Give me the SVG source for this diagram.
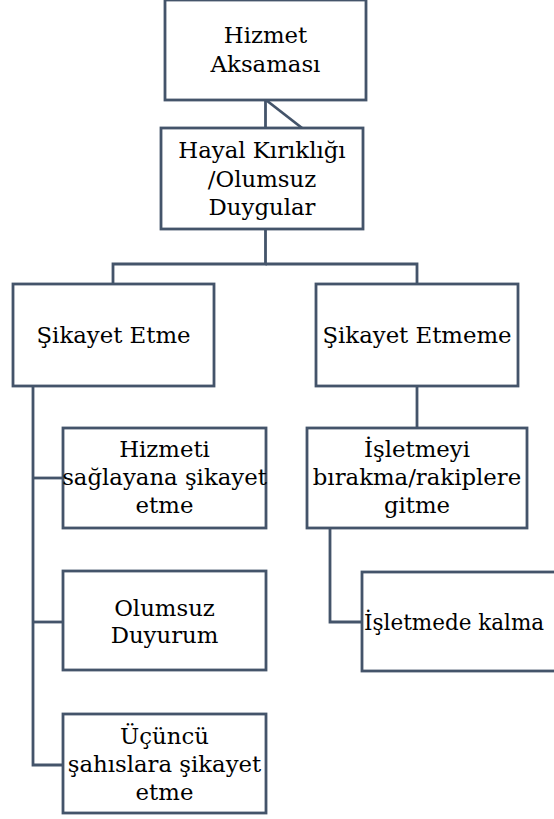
<svg xmlns="http://www.w3.org/2000/svg" width="554" height="819" viewBox="0 0 554 819">
  <style>
    .box { fill: #ffffff; stroke: #44546a; stroke-width: 2.8; }
    .link { fill: none; stroke: #44546a; stroke-width: 2.8; }
    text { font-family: 'DejaVu Serif', serif; font-size: 22.8px; fill: #000000; text-anchor: middle; }
  </style>
  <rect width="554" height="819" fill="#ffffff"/>

  <!-- connectors -->
  <g id="connectors">
    <path class="link" d="M265.5 100 V128"/>
    <path class="link" d="M266 100 L302 128"/>
    <path class="link" d="M265.5 229 V264 H113 V284"/>
    <path class="link" d="M265.5 264 H417 V284"/>
    <path class="link" d="M33 386 V765 H63"/>
    <path class="link" d="M33 478 H63"/>
    <path class="link" d="M33 622 H63"/>
    <path class="link" d="M417 386 V428"/>
    <path class="link" d="M330 528 V622 H362"/>
  </g>

  <g id="hizmet-aksamasi">
    <rect class="box" x="165" y="0" width="201" height="100"/>
    <text x="265.5" y="43">Hizmet</text>
    <text x="265.5" y="72">Aksaması</text>
  </g>

  <g id="hayal-kirikligi">
    <rect class="box" x="161" y="128" width="202" height="101"/>
    <text x="262" y="158">Hayal Kırıklığı</text>
    <text x="262" y="187">/Olumsuz</text>
    <text x="262" y="215">Duygular</text>
  </g>

  <g id="sikayet-etme">
    <rect class="box" x="13" y="284" width="201" height="102"/>
    <text x="113.5" y="343">Şikayet Etme</text>
  </g>

  <g id="sikayet-etmeme">
    <rect class="box" x="316" y="284" width="202" height="102"/>
    <text x="417" y="343">Şikayet Etmeme</text>
  </g>

  <g id="hizmeti-saglayana">
    <rect class="box" x="63" y="428" width="203" height="100"/>
    <text x="164.5" y="457">Hizmeti</text>
    <text x="164.5" y="485">sağlayana şikayet</text>
    <text x="164.5" y="513">etme</text>
  </g>

  <g id="olumsuz-duyurum">
    <rect class="box" x="63" y="571" width="203" height="99"/>
    <text x="164.5" y="616">Olumsuz</text>
    <text x="164.5" y="643">Duyurum</text>
  </g>

  <g id="ucuncu-sahislara">
    <rect class="box" x="63" y="714" width="203" height="99"/>
    <text x="164.5" y="744">Üçüncü</text>
    <text x="164.5" y="772">şahıslara şikayet</text>
    <text x="164.5" y="800">etme</text>
  </g>

  <g id="isletmeyi-birakma">
    <rect class="box" x="307" y="428" width="220" height="100"/>
    <text x="417" y="457">İşletmeyi</text>
    <text x="417" y="485">bırakma/rakiplere</text>
    <text x="417" y="513">gitme</text>
  </g>

  <g id="isletmede-kalma">
    <rect class="box" x="362" y="572" width="210" height="99"/>
    <text x="364" y="630" style="text-anchor:start; font-size:21.5px">İşletmede kalma</text>
  </g>
</svg>
